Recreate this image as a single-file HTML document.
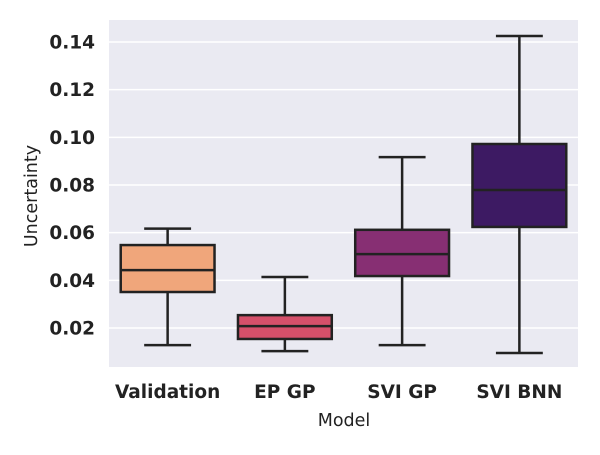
<!DOCTYPE html>
<html><head><meta charset="utf-8"><style>
html,body{margin:0;padding:0;background:#fff;}
svg text{font-family:"DejaVu Sans","Liberation Sans",sans-serif;fill:#222;}
</style></head><body>
<svg id="chart" width="600" height="450" xmlns="http://www.w3.org/2000/svg">
<rect x="109" y="20" width="469" height="347" fill="#eaeaf2"/>
<g id="grid"></g><g id="ticks"></g><g id="boxes"></g>
<text x="344" y="426" font-size="17.5" text-anchor="middle">Model</text>
<text x="37" y="196" font-size="17.5" text-anchor="middle" transform="rotate(-90 37 196)">Uncertainty</text>
</svg>
<script>
const categories=["Validation","EP GP","SVI GP","SVI BNN"];
const whiskerLow=[0.0128,0.0103,0.0128,0.0095];
const q1=[0.0351,0.0154,0.0418,0.0624];
const median=[0.0443,0.0208,0.0510,0.0779];
const q3=[0.0548,0.0254,0.0612,0.0972];
const whiskerHigh=[0.0617,0.0414,0.0917,0.1425];
const colors=["#f0a67b","#d5506a","#872f73","#3d1a63"];
const yTicks=[0.02,0.04,0.06,0.08,0.10,0.12,0.14];
const NS="http://www.w3.org/2000/svg";
const x0=109,x1=578,yTop=20,yBot=367;
function yScale(v){return 328-(v-0.02)*(286/0.12);}
const band=(x1-x0)/categories.length;
function xScale(i){return x0+band*(i+0.5);}
function mk(tag,attrs,parent){const e=document.createElementNS(NS,tag);for(const k in attrs)e.setAttribute(k,attrs[k]);parent.appendChild(e);return e;}
const grid=document.getElementById('grid'),ticks=document.getElementById('ticks'),boxes=document.getElementById('boxes');
yTicks.forEach(t=>{const y=yScale(t);
const l=mk('line',{x1:x0,x2:x1,y1:y,y2:y,stroke:'#fff','stroke-width':1.5},grid);


const tx=mk('text',{x:95,y:y+6.5,'font-size':18.5,'font-weight':'bold','text-anchor':'end'},ticks);
tx.textContent=t.toFixed(2);


});
categories.forEach((c,i)=>{const cx=xScale(i),w=band*0.8;
const g=mk('g',{},boxes);


const st={stroke:'#222','stroke-width':2.5};
mk('line',Object.assign({x1:cx,x2:cx,y1:yScale(whiskerLow[i]),y2:yScale(q1[i])},st),g);
mk('line',Object.assign({x1:cx,x2:cx,y1:yScale(q3[i]),y2:yScale(whiskerHigh[i])},st),g);
mk('line',Object.assign({x1:cx-w/4,x2:cx+w/4,y1:yScale(whiskerLow[i]),y2:yScale(whiskerLow[i])},st),g);
mk('line',Object.assign({x1:cx-w/4,x2:cx+w/4,y1:yScale(whiskerHigh[i]),y2:yScale(whiskerHigh[i])},st),g);
mk('rect',Object.assign({x:cx-w/2,y:yScale(q3[i]),width:w,height:yScale(q1[i])-yScale(q3[i]),fill:colors[i]},st),g);
mk('line',Object.assign({x1:cx-w/2,x2:cx+w/2,y1:yScale(median[i]),y2:yScale(median[i])},st),g);
const tx=mk('text',{x:cx,y:398,'font-size':18.5,'font-weight':'bold','text-anchor':'middle'},ticks);
tx.textContent=c;


});
</script>
</body></html>
